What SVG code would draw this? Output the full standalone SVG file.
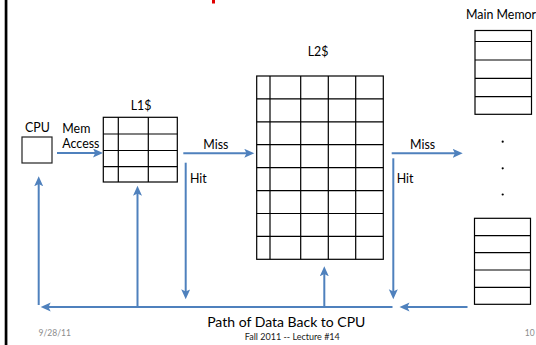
<svg xmlns="http://www.w3.org/2000/svg" width="536" height="345" viewBox="0 0 536 345">
  <style>
    .lbl { font-family: Lato, "Liberation Sans", sans-serif; font-size: 12.4px; fill: #000; }
    .grid { fill: #fff; stroke: #000; stroke-width: 1.2; }
    .gl { stroke: #000; stroke-width: 1.2; fill: none; }
    .wire { stroke: #4F81BD; stroke-width: 2; fill: none; marker-end: url(#arr); }
    .foot { font-family: Lato, "Liberation Sans", sans-serif; font-size: 8.5px; fill: #8c8c8c; }
  </style>
  <defs>
    <marker id="arr" markerUnits="userSpaceOnUse" markerWidth="11" markerHeight="10" refX="5" refY="4.5" orient="auto">
      <path d="M0,0 L10,4.5 L0,9 L2.2,4.5 Z" fill="#4F81BD"/>
    </marker>
  </defs>

  <rect width="536" height="345" fill="#fff"/>
  <!-- slide frame edge and title fragment -->
  <rect x="4.7" y="0" width="2.7" height="345" fill="#000"/>
  <rect x="212" y="0" width="3" height="3.5" fill="#e00000"/>

  <g id="cpu">
    <rect x="22" y="137" width="30" height="26" fill="#fff" stroke="#222" stroke-width="1.2"/>
    <text class="lbl" x="37.5" y="132" text-anchor="middle">CPU</text>
  </g>

  <g id="l1-cache">
    <text class="lbl" x="141" y="109.5" text-anchor="middle">L1$</text>
    <rect class="grid" x="103.3" y="117.3" width="74" height="64.7"/>
    <path class="gl" d="M118.3,117.3 V182 M148.3,117.3 V182 M103.3,134 H177.3 M103.3,150.5 H177.3 M103.3,166.7 H177.3"/>
  </g>

  <g id="l2-cache">
    <text class="lbl" x="318" y="56" text-anchor="middle">L2$</text>
    <rect class="grid" x="256.7" y="76" width="126.6" height="183.3"/>
    <path class="gl" d="M270,76 V259.3 M300.7,76 V259.3 M328.3,76 V259.3 M355.7,76 V259.3
      M256.7,98.9 H383.3 M256.7,121.8 H383.3 M256.7,144.7 H383.3 M256.7,167.7 H383.3
      M256.7,190.6 H383.3 M256.7,213.5 H383.3 M256.7,236.4 H383.3"/>
  </g>

  <g id="main-memory">
    <text class="lbl" x="466" y="19" font-size="13.2">Main Memor</text>
    <rect class="grid" x="475" y="30.5" width="56.5" height="83.8"/>
    <path class="gl" d="M475,41.5 H531.5 M475,60 H531.5 M475,78.3 H531.5 M475,96.6 H531.5"/>
    <circle cx="502.7" cy="141.7" r="1.1" fill="#000"/>
    <circle cx="502.7" cy="168.3" r="1.1" fill="#000"/>
    <circle cx="502.7" cy="194.5" r="1.1" fill="#000"/>
    <rect class="grid" x="474.5" y="218.3" width="56" height="86"/>
    <path class="gl" d="M474.5,235.7 H530.5 M474.5,252.7 H530.5 M474.5,270 H530.5 M474.5,287.3 H530.5"/>
  </g>

  <g id="connectors">
    <path class="wire" d="M57,153 H98"/>
    <path class="wire" d="M183.3,153.3 H249.3"/>
    <path class="wire" d="M391.7,153.3 H457.7"/>
    <path class="wire" d="M185.7,162.7 V294.3"/>
    <path class="wire" d="M393.3,158.3 V294.3"/>
    <path class="wire" d="M467.5,307 H404.5"/>
    <path class="wire" d="M392.5,307 H45.7"/>
    <path class="wire" d="M38.7,305 V181.3"/>
    <path class="wire" d="M137.5,307 V190.7"/>
    <path class="wire" d="M324.3,307 V271.3"/>
  </g>

  <g id="connector-labels">
    <text class="lbl" x="62.3" y="133">Mem</text>
    <text class="lbl" x="62.3" y="147.5">Access</text>
    <text class="lbl" x="203.3" y="148.5">Miss</text>
    <text class="lbl" x="410" y="149">Miss</text>
    <text class="lbl" x="190" y="183">Hit</text>
    <text class="lbl" x="396.7" y="183">Hit</text>
    <text x="286.3" y="327" text-anchor="middle" font-family="Lato, 'Liberation Sans', sans-serif" font-size="14" fill="#000">Path of Data Back to CPU</text>
  </g>

  <g id="footer">
    <text class="foot" x="38.6" y="336">9/28/11</text>
    <text x="292.3" y="339.5" text-anchor="middle" font-family="Lato, 'Liberation Sans', sans-serif" font-size="9" fill="#1a1a1a">Fall 2011 -- Lecture #14</text>
    <text class="foot" x="524.8" y="336">10</text>
  </g>
</svg>
